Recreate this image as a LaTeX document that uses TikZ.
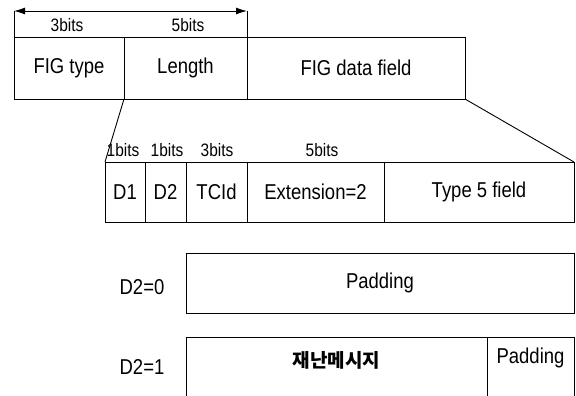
\documentclass[tikz,border=0pt]{standalone}
\usepackage{fontspec}
\setmainfont{Liberation Sans}
\newfontfamily\mainfnt{Liberation Sans}[FakeStretch=0.86]
\newfontfamily\cjkfont{Noto Sans CJK KR}
\usetikzlibrary{arrows.meta}
\begin{document}
\begin{tikzpicture}[x=1pt,y=-1pt,
  box/.style={draw, line width=0.9pt, inner sep=0pt, outer sep=0pt, anchor=north west, font=\mainfnt\fontsize{21.5}{24}\selectfont},
  cell/.style={inner sep=0pt, outer sep=0pt, anchor=north west, font=\mainfnt\fontsize{21.5}{24}\selectfont},
  lbl/.style={inner sep=0pt, font=\mainfnt\fontsize{21.5}{24}\selectfont},
  bits/.style={inner sep=0pt, font=\mainfnt\fontsize{18}{20}\selectfont},
  ln/.style={line width=0.9pt},
  dimarrow/.style={line width=0.9pt, {Latex[length=11pt,width=7pt]}-{Latex[length=11pt,width=7pt]}}]
\useasboundingbox (0,0) rectangle (576,396);
% top row
\node[box, minimum width=110pt, minimum height=62pt] (figtype) at (14,37) {FIG type};
\node[box, minimum width=123pt, minimum height=62pt] (length) at (124,37) {Length};
\node[box, minimum width=218pt, minimum height=62pt] (data) at (247,37) {FIG data field};
\coordinate (a1) at (14,11);
\coordinate (a2) at (247,11);
\draw[ln] (a1) -- (figtype.north west);
\draw[ln] (a2) -- (length.north east);
\draw[dimarrow] (a1) -- (a2);
\node[bits] (b3) at (67,25) {3bits};
\node[bits] (b5) at (188,25) {5bits};
% second row
\node[box, minimum width=40pt, minimum height=60pt] (d1) at (105,162) {D1};
\node[box, minimum width=41pt, minimum height=60pt] (d2) at (145,162) {D2};
\node[box, minimum width=61pt, minimum height=60pt] (tcid) at (186,162) {TCId};
\node[box, minimum width=137pt, minimum height=60pt] (ext) at (247,162) {Extension=2};
\node[box, minimum width=190pt, minimum height=60pt] (type5) at (384,162) {Type 5 field};
\draw[ln] (figtype.south east) -- (d1.north west);
\draw[ln] (data.south east) -- (type5.north east);
\node[bits] (c1) at (123,150) {1bits};
\node[bits] (c2) at (167,150) {1bits};
\node[bits] (c3) at (217,150) {3bits};
\node[bits] (c4) at (322,150) {5bits};
% D2=0
\node[lbl] (l0) at (142,287) {D2=0};
\node[box, minimum width=388pt, minimum height=60pt] (pad0) at (186,253) {Padding};
% D2=1
\node[lbl] (l1) at (142,367) {D2=1};
\node[cell, minimum width=301pt, minimum height=46pt] (msg) at (186,337) {\cjkfont\bfseries\fontsize{19}{21}\selectfont 재난메시지};
\node[cell, minimum width=87pt, minimum height=42pt] (pad1) at (487,337) {Padding};
\coordinate (msgbot) at (186,396);
\coordinate (divbot) at (487,396);
\coordinate (rbot) at (574,396);
\draw[ln] (msgbot) -- (msg.north west) -- (pad1.north east) -- (rbot);
\draw[ln] (msg.north east) -- (divbot);
\end{tikzpicture}
\end{document}
